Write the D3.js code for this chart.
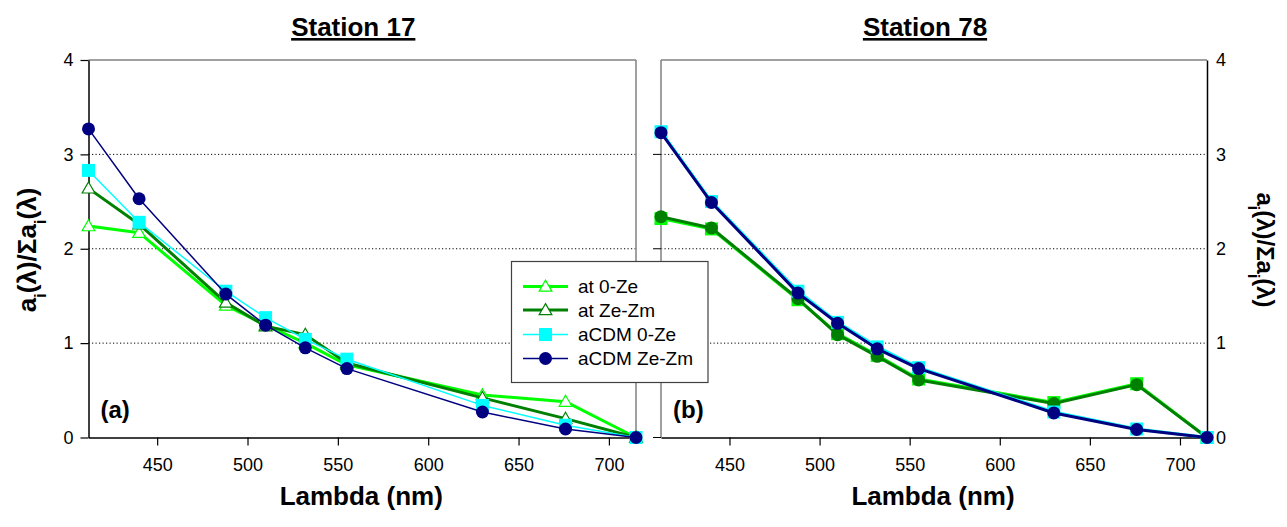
<!DOCTYPE html>
<html>
<head>
<meta charset="utf-8">
<script src="https://cdn.jsdelivr.net/npm/d3@7"></script>
<style>
  body { margin: 0; background: #fff; }
  svg { display: block; font-family: "Liberation Sans", Arial, sans-serif; }
</style>
</head>
<body>
<svg id="chart" width="1287" height="527"></svg>
<script>
// ---- data ----
const wavelengths = [412, 440, 488, 510, 532, 555, 630, 676, 715];
const xTicks = [450, 500, 550, 600, 650, 700];
const yTicks = [0, 1, 2, 3, 4];
const seriesNames = ["at 0-Ze", "at Ze-Zm", "aCDM 0-Ze", "aCDM Ze-Zm"];
const panelTitles = ["Station 17", "Station 78"];
const panelTags = ["(a)", "(b)"];

// Station 17
const st17_at0Ze   = [2.24, 2.17, 1.40, 1.19, 1.00, 0.77, 0.45, 0.38, 0];
const st17_atZeZm  = [2.64, 2.26, 1.43, 1.18, 1.09, 0.79, 0.42, 0.20, 0];
const st17_cdm0Ze  = [2.83, 2.28, 1.55, 1.27, 1.04, 0.83, 0.34, 0.13, 0];
const st17_cdmZeZm = [3.27, 2.53, 1.52, 1.19, 0.95, 0.73, 0.27, 0.09, 0];
// Station 78
const st78_at0Ze   = [2.32, 2.21, 1.46, 1.10, 0.87, 0.62, 0.37, 0.57, 0];
const st78_atZeZm  = [2.34, 2.22, 1.47, 1.09, 0.86, 0.61, 0.36, 0.56, 0];
const st78_cdm0Ze  = [3.24, 2.50, 1.55, 1.22, 0.96, 0.74, 0.27, 0.09, 0];
const st78_cdmZeZm = [3.23, 2.49, 1.53, 1.21, 0.94, 0.73, 0.26, 0.085, 0];

const colors = ["#00ff00", "#008000", "#00ffff", "#000080"];

// ---- drawing ----
const svg = d3.select("#chart");
const y0 = 437.5, y4 = 60;
const FONT = "Liberation Sans, Arial, sans-serif";

const panels = [
  { x0: 88.5, x1: 636, data: [st17_at0Ze, st17_atZeZm, st17_cdm0Ze, st17_cdmZeZm],
    markers: ["triangle", "triangle", "square", "circle"], widths: [3, 3, 1.5, 1.5], side: "left" },
  { x0: 661, x1: 1207, data: [st78_at0Ze, st78_atZeZm, st78_cdm0Ze, st78_cdmZeZm],
    markers: ["square", "circle", "square", "circle"], widths: [3, 3, 3, 3], side: "right" }
];

const yScale = d3.scaleLinear().domain([0, 4]).range([y0, y4]);

function drawMarker(g, type, x, y, color) {
  if (type === "triangle") {
    g.append("path")
      .attr("d", d3.symbol().type(d3.symbolTriangle).size(70)())
      .attr("transform", `translate(${x},${y + 1})`)
      .attr("fill", "#fff").attr("stroke", color).attr("stroke-width", 1.2);
  } else if (type === "square") {
    g.append("rect").attr("x", x - 6.5).attr("y", y - 6.5).attr("width", 13).attr("height", 13)
      .attr("fill", color);
  } else {
    g.append("circle").attr("cx", x).attr("cy", y).attr("r", 6.5).attr("fill", color);
  }
}

panels.forEach((p, pi) => {
  const x = d3.scaleLinear().domain([412, 715]).range([p.x0, p.x1]);
  const g = svg.append("g");

  // gridlines
  g.selectAll("line.grid").data([1, 2, 3]).enter().append("line")
    .attr("x1", p.x0).attr("x2", p.x1)
    .attr("y1", d => yScale(d)).attr("y2", d => yScale(d))
    .attr("stroke", "#000").attr("stroke-width", 1).attr("stroke-dasharray", "1.2,2.3");

  // frame (gray sides)
  g.append("line").attr("x1", p.x0).attr("x2", p.x1).attr("y1", y4).attr("y2", y4)
    .attr("stroke", "#808080").attr("stroke-width", 1.5);
  if (p.side === "left") {
    g.append("line").attr("x1", p.x1).attr("x2", p.x1).attr("y1", y4).attr("y2", y0)
      .attr("stroke", "#808080").attr("stroke-width", 1.5);
  } else {
    g.append("line").attr("x1", p.x0).attr("x2", p.x0).attr("y1", y4).attr("y2", y0)
      .attr("stroke", "#808080").attr("stroke-width", 1.5);
    g.selectAll("line.lt").data(yTicks.slice(0, 4)).enter().append("line")
      .attr("x1", p.x0 - 8).attr("x2", p.x0)
      .attr("y1", d => yScale(d)).attr("y2", d => yScale(d))
      .attr("stroke", "#000").attr("stroke-width", 1);
  }

  // x axis
  const xAxis = d3.axisBottom(x).tickValues(xTicks).tickSize(8).tickPadding(13).tickSizeOuter(0);
  const gx = g.append("g").attr("transform", `translate(0,${y0})`).call(xAxis);
  gx.select(".domain").attr("stroke", "#000").attr("stroke-width", 1.5);
  gx.selectAll(".tick line").attr("stroke", "#000").attr("stroke-width", 1.2);
  gx.selectAll(".tick text").attr("font-size", 18).attr("fill", "#000").attr("font-family", FONT);

  // y axis
  const fmt = d3.format("d");
  if (p.side === "left") {
    const yAxis = d3.axisLeft(yScale).tickValues(yTicks).tickFormat(fmt).tickSize(8).tickPadding(7).tickSizeOuter(0);
    const gy = g.append("g").attr("transform", `translate(${p.x0},0)`).call(yAxis);
    gy.select(".domain").attr("stroke", "#000").attr("stroke-width", 1.5);
    gy.selectAll(".tick line").attr("stroke", "#000").attr("stroke-width", 1.2);
    gy.selectAll(".tick text").attr("font-size", 18).attr("fill", "#000").attr("font-family", FONT);
  } else {
    const yAxis = d3.axisRight(yScale).tickValues(yTicks).tickFormat(fmt).tickSize(0).tickPadding(9).tickSizeOuter(0);
    const gy = g.append("g").attr("transform", `translate(${p.x1},0)`).call(yAxis);
    gy.select(".domain").attr("stroke", "#000").attr("stroke-width", 1.5);
    gy.selectAll(".tick text").attr("font-size", 18).attr("fill", "#000").attr("font-family", FONT);
  }

  // series
  const line = d3.line().x((d, i) => x(wavelengths[i])).y(d => yScale(d));
  p.data.forEach((vals, si) => {
    const sg = g.append("g");
    sg.append("path").datum(vals).attr("d", line).attr("fill", "none")
      .attr("stroke", colors[si]).attr("stroke-width", p.widths[si]).attr("stroke-linejoin", "round");
    vals.forEach((v, i) => drawMarker(sg, p.markers[si], x(wavelengths[i]), yScale(v), colors[si]));
  });

  // title
  svg.append("text").attr("x", (p.x0 + p.x1) / 2 - 9).attr("y", 36)
    .attr("text-anchor", "middle").attr("font-size", 26).attr("font-weight", "bold")
    .attr("text-decoration", "underline").text(panelTitles[pi]);

  // x label
  svg.append("text").attr("x", (p.x0 + p.x1) / 2 - 1).attr("y", 505)
    .attr("text-anchor", "middle").attr("font-size", 26).attr("font-weight", "bold")
    .text("Lambda (nm)");

  // panel tag
  svg.append("text").attr("x", p.x0 + 12).attr("y", 418)
    .attr("font-size", 24).attr("font-weight", "bold").text(panelTags[pi]);
});

// y labels
function yLabel(xPos, yPos, rot, size) {
  const t = svg.append("text").attr("transform", `translate(${xPos},${yPos}) rotate(${rot})`)
    .attr("text-anchor", "middle").attr("font-size", size).attr("font-weight", "bold");
  t.append("tspan").text("a");
  t.append("tspan").attr("baseline-shift", "sub").attr("font-size", size * 0.65).text("i");
  t.append("tspan").text("(λ)/Σa");
  t.append("tspan").attr("baseline-shift", "sub").attr("font-size", size * 0.65).text("i");
  t.append("tspan").text("(λ)");
}
yLabel(36, 250, -90, 26);
yLabel(1257, 250, 90, 24);

// legend
const lg = svg.append("g");
lg.append("rect").attr("x", 511.5).attr("y", 261.5).attr("width", 196.5).attr("height", 121)
  .attr("fill", "#fff").attr("stroke", "#404040").attr("stroke-width", 1.2);
const legMarkers = ["triangle", "triangle", "square", "circle"];
const legWidths = [3, 3, 1.5, 1.5];
const rowY = [286.5, 310, 334.5, 358.5];
seriesNames.forEach((name, i) => {
  lg.append("line").attr("x1", 523).attr("x2", 568).attr("y1", rowY[i]).attr("y2", rowY[i])
    .attr("stroke", colors[i]).attr("stroke-width", legWidths[i]);
  drawMarker(lg, legMarkers[i], 545.5, rowY[i], colors[i]);
  lg.append("text").attr("x", 578).attr("y", rowY[i] + 6.5).attr("font-size", 19).text(name);
});
</script>
</body>
</html>
